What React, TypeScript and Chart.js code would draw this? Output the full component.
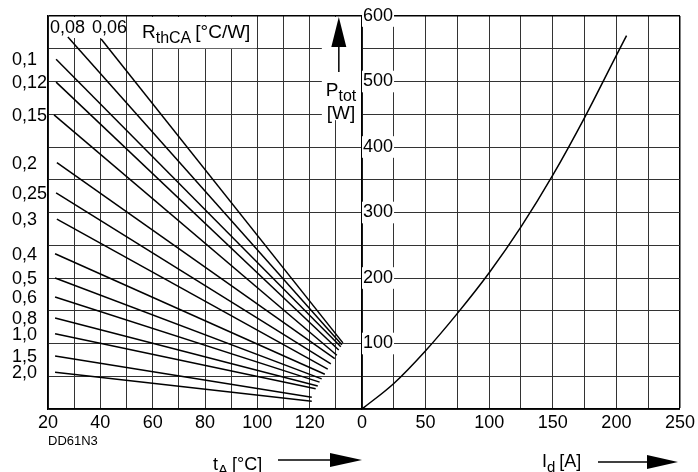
import React, { useEffect, useRef } from 'react';
import { Chart, registerables } from 'chart.js';

Chart.register(...registerables);

// ---- data ----
const rthLabels = ['0,06', '0,08', '0,1', '0,12', '0,15', '0,2', '0,25', '0,3', '0,4', '0,5', '0,6', '0,8', '1,0', '1,5', '2,0'];
const tStart = [40.3, 27.6, 23.1, 23.1, 22.3, 23.4, 23.1, 23.4, 22.7, 22.7, 22.7, 22.7, 22.7, 22.7, 22.7];
const pStart = [565, 568, 534, 499, 449, 376, 330, 290, 237, 200, 171, 139, 115, 81, 56];
const tEnd = [132.7, 132.3, 131.9, 131.1, 130.4, 129.6, 128.1, 126.9, 125.8, 124.6, 123.8, 123.1, 122.3, 120.8, 120.8];
const pEnd = [101, 98, 95, 90, 82, 77, 69, 61, 53, 46, 41, 35, 31, 18, 12];

const idValues = [0, 25, 50, 75, 100, 125, 150, 175, 200, 208];
const ptotValues = [0, 39, 89, 146, 208, 278, 357, 445, 540, 570];

const tempTickLabels = [20, 40, 60, 80, 100, 120];
const currentTickLabels = [0, 50, 100, 150, 200, 250];
const powerTickLabels = [100, 200, 300, 400, 500, 600];

const FONT = "'Liberation Sans', Arial, Helvetica, sans-serif";
const W = 698;
const H = 472;
const GRID = '#333333';
const INK = '#000000';

Chart.defaults.font.family = FONT;
Chart.defaults.font.size = 18;
Chart.defaults.color = INK;

function drawSub(ctx: CanvasRenderingContext2D, x: number, y: number, main: string, sub: string, rest: string, mainSize = 18, subSize = 15) {
  ctx.textAlign = 'left';
  ctx.textBaseline = 'alphabetic';
  ctx.font = `${mainSize}px ${FONT}`;
  ctx.fillText(main, x, y);
  let cx = x + ctx.measureText(main).width;
  ctx.font = `${subSize}px ${FONT}`;
  ctx.fillText(sub, cx, y + 5);
  cx += ctx.measureText(sub).width;
  if (rest) {
    ctx.font = `${mainSize}px ${FONT}`;
    ctx.fillText(rest, cx + 4, y);
  }
}

const annotations = {
  id: 'annotations',
  beforeDatasetsDraw(chart: any) {
    const ctx: CanvasRenderingContext2D = chart.ctx;
    const a = chart.chartArea;
    const xs = chart.scales.x;
    const ys = chart.scales.y;
    ctx.save();
    ctx.fillStyle = '#ffffff';
    // box behind "0,08 0,06"
    ctx.fillRect(a.left + 1, a.top + 1, xs.getPixelForValue(50) - a.left - 2, 21);
    // box behind R_thCA label
    ctx.fillRect(xs.getPixelForValue(50) + 1, a.top + 1, xs.getPixelForValue(100) - xs.getPixelForValue(50) - 2, ys.getPixelForValue(550) - a.top - 1.5);
    // box behind P_tot label
    const bx = xs.getPixelForValue(130) - 14;
    ctx.fillRect(bx, a.top + 1, a.right - 1 - bx, ys.getPixelForValue(441) - a.top - 1);
    ctx.restore();
  },
  afterDraw(chart: any) {
    const ctx: CanvasRenderingContext2D = chart.ctx;
    const a = chart.chartArea;
    const xs = chart.scales.x;
    const ys = chart.scales.y;
    ctx.save();
    ctx.fillStyle = INK;
    ctx.strokeStyle = INK;

    // resistance labels on the left
    ctx.font = `18px ${FONT}`;
    ctx.textAlign = 'left';
    ctx.textBaseline = 'middle';
    for (let i = 2; i < rthLabels.length; i++) {
      ctx.fillText(rthLabels[i], a.left - 36, ys.getPixelForValue(pStart[i]) + 1);
    }
    // labels of the two steepest lines at the top
    ctx.textBaseline = 'alphabetic';
    ctx.fillText(rthLabels[1], a.left + 2, a.top + 17);
    ctx.fillText(rthLabels[0], a.left + 44, a.top + 17);

    // R_thCA [°C/W]
    drawSub(ctx, a.left + 94, a.top + 22, 'R', 'thCA', '[°C/W]', 19, 16);

    // P_tot [W] with arrow
    const ax = xs.getPixelForValue(130) + 3;
    ctx.beginPath();
    ctx.moveTo(ax, a.top + 1);
    ctx.lineTo(ax + 7.5, a.top + 31);
    ctx.lineTo(ax - 7.5, a.top + 31);
    ctx.closePath();
    ctx.fill();
    ctx.lineWidth = 1.5;
    ctx.beginPath();
    ctx.moveTo(ax, a.top + 30);
    ctx.lineTo(ax, a.top + 56);
    ctx.stroke();
    drawSub(ctx, ax - 13, a.top + 80, 'P', 'tot', '', 19, 16);
    ctx.font = `19px ${FONT}`;
    ctx.fillText('[W]', ax - 12, a.top + 103);

    // DD61N3
    ctx.font = `13px ${FONT}`;
    ctx.textBaseline = 'middle';
    ctx.fillText('DD61N3', a.left, a.bottom + 32);

    // t_A [°C] with arrow
    ctx.textBaseline = 'alphabetic';
    drawSub(ctx, 213, 470, 't', 'A', '[°C]', 18, 15);
    ctx.lineWidth = 1.5;
    ctx.beginPath();
    ctx.moveTo(278, 460);
    ctx.lineTo(334, 460);
    ctx.stroke();
    ctx.beginPath();
    ctx.moveTo(330, 453);
    ctx.lineTo(a.right, 460);
    ctx.lineTo(330, 467);
    ctx.closePath();
    ctx.fill();

    // I_d [A] with arrow
    drawSub(ctx, 542, 467, 'I', 'd', '[A]', 18, 15);
    ctx.beginPath();
    ctx.moveTo(598, 462);
    ctx.lineTo(650, 462);
    ctx.stroke();
    ctx.beginPath();
    ctx.moveTo(647, 455);
    ctx.lineTo(678, 462);
    ctx.lineTo(647, 469);
    ctx.closePath();
    ctx.fill();

    ctx.restore();
  },
};

export default function App() {
  const leftRef = useRef<HTMLCanvasElement>(null);
  const rightRef = useRef<HTMLCanvasElement>(null);

  useEffect(() => {
    if (!leftRef.current || !rightRef.current) return;

    const leftDatasets = rthLabels.map((lab, i) => ({
      label: lab,
      data: [
        { x: tStart[i], y: pStart[i] },
        { x: tEnd[i], y: pEnd[i] },
      ],
      borderColor: INK,
      borderWidth: 1.5,
      pointRadius: 0,
      fill: false,
    }));

    const left = new Chart(leftRef.current, {
      type: 'line',
      data: { datasets: leftDatasets },
      options: {
        responsive: false,
        animation: false,
        devicePixelRatio: 1,
        events: [],
        layout: { padding: { left: 48, top: 16, right: W - 362, bottom: 0 } },
        plugins: { legend: { display: false }, tooltip: { enabled: false } },
        scales: {
          x: {
            type: 'linear',
            min: 20,
            max: 140,
            afterFit: (s: any) => { s.height = 63; },
            border: { display: true, color: INK, width: 1.5 },
            grid: { color: GRID, lineWidth: 1, drawTicks: false },
            ticks: {
              stepSize: 10,
              autoSkip: false,
              maxRotation: 0,
              padding: 3,
              font: { size: 18 },
              callback: (v: any) => (tempTickLabels.includes(Number(v)) ? String(v) : ''),
            },
          },
          y: {
            type: 'linear',
            min: 0,
            max: 600,
            afterFit: (s: any) => { s.width = 0; },
            border: { display: true, color: INK, width: 1.5 },
            grid: {
              drawTicks: false,
              color: (c: any) => (c.tick && c.tick.value === 600 ? INK : GRID),
              lineWidth: (c: any) => (c.tick && c.tick.value === 600 ? 1.5 : 1),
            },
            ticks: { display: false, stepSize: 50 },
          },
        },
      },
      plugins: [annotations],
    } as any);

    const right = new Chart(rightRef.current, {
      type: 'line',
      data: {
        datasets: [
          {
            label: 'Ptot',
            data: idValues.map((v, i) => ({ x: v, y: ptotValues[i] })),
            borderColor: INK,
            borderWidth: 1.5,
            pointRadius: 0,
            fill: false,
            cubicInterpolationMode: 'monotone',
          },
        ],
      },
      options: {
        responsive: false,
        animation: false,
        devicePixelRatio: 1,
        events: [],
        layout: { padding: { left: 362, top: 16, right: W - 680, bottom: 0 } },
        plugins: { legend: { display: false }, tooltip: { enabled: false } },
        scales: {
          x: {
            type: 'linear',
            min: 0,
            max: 250,
            afterFit: (s: any) => { s.height = 63; },
            border: { display: true, color: INK, width: 1.5 },
            grid: {
              drawTicks: false,
              color: (c: any) => (c.tick && c.tick.value === 250 ? INK : GRID),
              lineWidth: (c: any) => (c.tick && c.tick.value === 250 ? 1.5 : 1),
            },
            ticks: {
              stepSize: 25,
              autoSkip: false,
              maxRotation: 0,
              padding: 3,
              font: { size: 18 },
              callback: (v: any) => (currentTickLabels.includes(Number(v)) ? String(v) : ''),
            },
          },
          y: {
            type: 'linear',
            position: 'left',
            min: 0,
            max: 600,
            afterFit: (s: any) => { s.width = 0; },
            border: { display: true, color: INK, width: 1.5 },
            grid: {
              drawTicks: false,
              color: (c: any) => (c.tick && c.tick.value === 600 ? INK : GRID),
              lineWidth: (c: any) => (c.tick && c.tick.value === 600 ? 1.5 : 1),
            },
            ticks: {
              stepSize: 50,
              mirror: true,
              padding: 1,
              font: { size: 18 },
              showLabelBackdrop: true,
              backdropPadding: { top: 0, bottom: 0, left: 1, right: 1 },
              backdropColor: (c: any) => (c.tick && powerTickLabels.includes(c.tick.value) ? '#ffffff' : 'rgba(0,0,0,0)'),
              callback: (v: any) => (powerTickLabels.includes(Number(v)) ? String(v) : ''),
            },
          },
        },
      },
    } as any);

    return () => {
      left.destroy();
      right.destroy();
    };
  }, []);

  return (
    <div style={{ position: 'absolute', left: 0, top: 0, width: W, height: H, background: '#ffffff', overflow: 'hidden' }}>
      <canvas ref={leftRef} width={W} height={H} style={{ position: 'absolute', left: 0, top: 0 }} />
      <canvas ref={rightRef} width={W} height={H} style={{ position: 'absolute', left: 0, top: 0 }} />
    </div>
  );
}
